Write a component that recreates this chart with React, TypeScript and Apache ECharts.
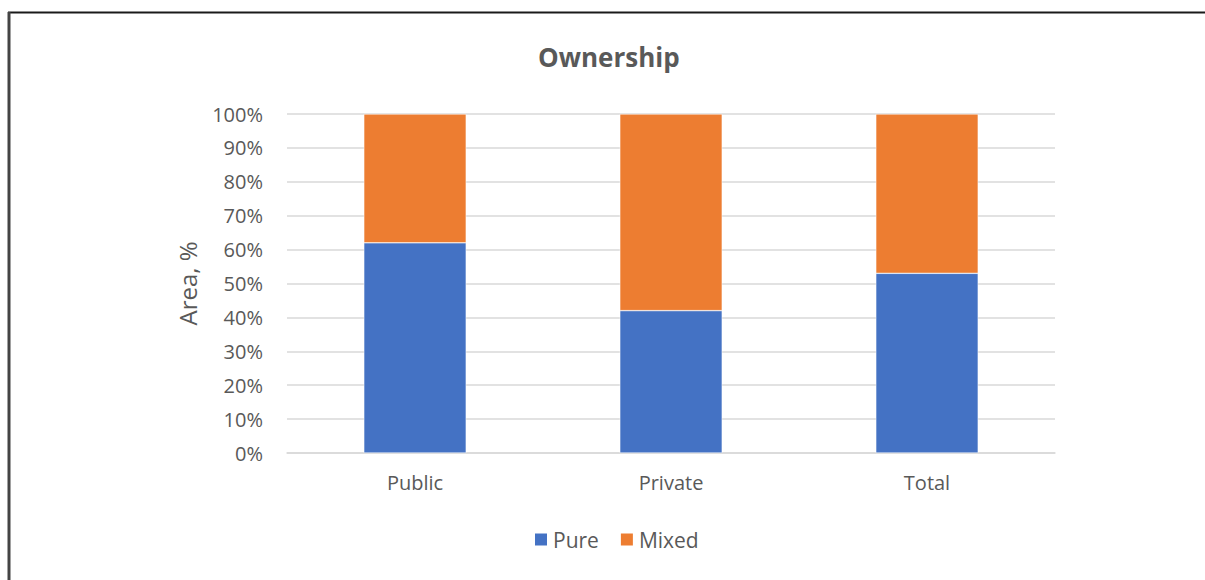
import React, { useEffect, useRef } from "react";
import * as echarts from "echarts";

const categories = ["Public", "Private", "Total"];
const pureValues = [62, 42, 53];
const mixedValues = [38, 58, 47];
const seriesNames = ["Pure", "Mixed"];
const chartTitle = "Ownership";
const yAxisTitle = "Area, %";

export default function App() {
  const ref = useRef<HTMLDivElement>(null);
  useEffect(() => {
    if (!ref.current) return;
    const chart = echarts.init(ref.current, null, { renderer: "svg" });
    const font = "'Open Sans', sans-serif";
    chart.setOption({
      animation: false,
      backgroundColor: "#ffffff",
      title: {
        text: chartTitle,
        left: 538,
        top: 44,
        padding: 0,
        textStyle: { fontFamily: font, fontSize: 26, fontWeight: "bold", color: "#595959" },
      },
      legend: {
        top: 524,
        left: 528,
        itemWidth: 14,
        itemHeight: 14,
        itemGap: 20,
        icon: "rect",
        textStyle: { fontFamily: font, fontSize: 21, color: "#595959" },
        data: seriesNames,
      },
      grid: { left: 287, right: 150, top: 114, bottom: 127, containLabel: false },
      xAxis: {
        type: "category",
        data: categories,
        axisLine: { lineStyle: { color: "#d9d9d9", width: 1.5 } },
        axisTick: { show: false },
        axisLabel: { fontFamily: font, fontSize: 20, color: "#595959", margin: 19 },
      },
      yAxis: {
        type: "value",
        min: 0,
        max: 100,
        interval: 10,
        name: yAxisTitle,
        nameLocation: "middle",
        nameGap: 88,
        nameTextStyle: { fontFamily: font, fontSize: 24, color: "#595959" },
        axisLine: { show: false },
        axisTick: { show: false },
        splitLine: { lineStyle: { color: "#d9d9d9", width: 1.5 } },
        axisLabel: { fontFamily: font, fontSize: 20, color: "#595959", margin: 24, formatter: "{value}%" },
      },
      series: [
        {
          name: seriesNames[0],
          type: "bar",
          stack: "total",
          data: pureValues,
          barWidth: "40%",
          itemStyle: { color: "#4472c4", borderColor: "#ffffff", borderWidth: 0.5 },
        },
        {
          name: seriesNames[1],
          type: "bar",
          stack: "total",
          data: mixedValues,
          barWidth: "40%",
          itemStyle: { color: "#ed7d31", borderColor: "#ffffff", borderWidth: 0.5 },
        },
      ],
      graphic: [
        { type: "line", shape: { x1: 8, y1: 12.5, x2: 1205, y2: 12.5 }, style: { stroke: "#1a1a1a", lineWidth: 2 } },
        { type: "line", shape: { x1: 9, y1: 12, x2: 9, y2: 580 }, style: { stroke: "#444444", lineWidth: 3 } },
      ],
    });
    return () => chart.dispose();
  }, []);
  return (
    <div
      ref={ref}
      style={{ position: "absolute", left: 0, top: 0, width: 1205, height: 580 }}
    />
  );
}
